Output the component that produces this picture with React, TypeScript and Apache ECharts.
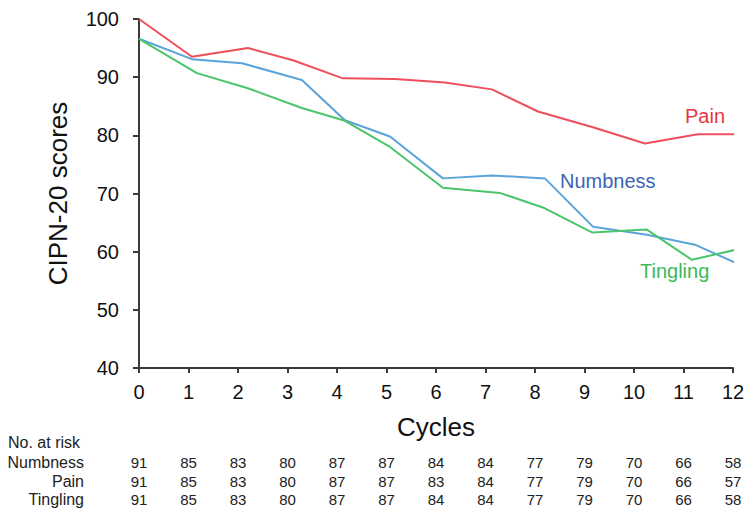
import React, { useEffect, useRef } from "react";
import * as echarts from "echarts";

const cycles = [0, 1, 2, 3, 4, 5, 6, 7, 8, 9, 10, 11, 12];
const yTicks = [40, 50, 60, 70, 80, 90, 100];

// [cycle position, score]
const pain: [number, number][] = [
  [0, 100], [1.07, 93.5], [2.2, 95.0], [3.11, 92.9], [4.12, 89.8], [5.17, 89.7],
  [6.18, 89.1], [7.13, 87.9], [8.06, 84.1], [9.17, 81.4], [10.22, 78.6], [11.29, 80.2], [12.2, 80.2],
];
const numbness: [number, number][] = [
  [0, 96.6], [1.07, 93.1], [2.08, 92.4], [3.29, 89.5], [4.16, 82.6], [5.07, 79.8],
  [6.14, 72.6], [7.13, 73.1], [8.2, 72.6], [9.17, 64.3], [10.26, 62.9], [11.23, 61.2], [12.18, 57.6],
];
const tingling: [number, number][] = [
  [0, 96.6], [1.17, 90.7], [2.2, 88.1], [3.29, 84.7], [4.16, 82.5], [5.07, 78.0],
  [6.14, 71.0], [7.29, 70.1], [8.16, 67.6], [9.15, 63.3], [10.26, 63.8], [11.17, 58.6], [12.14, 60.5],
];

const riskNumbness = [91, 85, 83, 80, 87, 87, 84, 84, 77, 79, 70, 66, 58];
const riskPain = [91, 85, 83, 80, 87, 87, 83, 84, 77, 79, 70, 66, 57];
const riskTingling = [91, 85, 83, 80, 87, 87, 84, 84, 77, 79, 70, 66, 58];

const FONT = "'Liberation Sans', Arial, Helvetica, sans-serif";
const AXIS_COLOR = "#3a3a3a";

export default function App() {
  const ref = useRef<HTMLDivElement>(null);
  useEffect(() => {
    if (!ref.current) return;
    const chart = echarts.init(ref.current, undefined, { renderer: "svg" });
    const riskAxis = (vals: number[], offset: number) => ({
      type: "value" as const,
      position: "bottom" as const,
      min: 0,
      max: 12,
      interval: 1,
      offset,
      axisLine: { show: false },
      axisTick: { show: false },
      splitLine: { show: false },
      axisLabel: {
        margin: 0,
        fontSize: 15,
        color: "#222",
        fontFamily: FONT,
        formatter: (v: number) => String(vals[Math.round(v)] ?? ""),
      },
    });
    chart.setOption({
      animation: false,
      backgroundColor: "#ffffff",
      grid: { left: 139, top: 19, right: 16, bottom: 141, containLabel: false },
      xAxis: [
        {
          type: "value",
          min: 0,
          max: 12,
          interval: 1,
          name: "Cycles",
          nameLocation: "middle",
          nameGap: 46,
          nameTextStyle: { fontSize: 26, color: "#111", fontFamily: FONT },
          axisLine: { show: true, lineStyle: { color: AXIS_COLOR, width: 2 } },
          axisTick: { show: true, length: 5, lineStyle: { color: AXIS_COLOR, width: 2 } },
          splitLine: { show: false },
          axisLabel: {
            margin: 14,
            fontSize: 20,
            color: "#111",
            fontFamily: FONT,
            formatter: (v: number) => (cycles.includes(v) ? String(v) : ""),
          },
        },
        riskAxis(riskNumbness, 87),
        riskAxis(riskPain, 106),
        riskAxis(riskTingling, 124),
      ],
      yAxis: {
        type: "value",
        min: yTicks[0],
        max: yTicks[yTicks.length - 1],
        interval: 10,
        name: "CIPN-20 scores",
        nameLocation: "middle",
        nameRotate: 90,
        nameGap: 68,
        nameTextStyle: { fontSize: 26, color: "#111", fontFamily: FONT },
        axisLine: { show: true, lineStyle: { color: AXIS_COLOR, width: 2 } },
        axisTick: { show: true, length: 6, lineStyle: { color: AXIS_COLOR, width: 2 } },
        splitLine: { show: false },
        axisLabel: { margin: 20, fontSize: 20, color: "#111", fontFamily: FONT },
      },
      series: [
        {
          type: "line",
          name: "Pain",
          data: pain,
          symbol: "none",
          clip: false,
          lineStyle: { color: "#ee4f5b", width: 2 },
        },
        {
          type: "line",
          name: "Numbness",
          data: numbness,
          symbol: "none",
          clip: false,
          lineStyle: { color: "#5ba3d9", width: 2 },
        },
        {
          type: "line",
          name: "Tingling",
          data: tingling,
          symbol: "none",
          clip: false,
          lineStyle: { color: "#4cc46c", width: 2 },
        },
      ],
      graphic: [
        { type: "text", left: 685, top: 106, style: { text: "Pain", fill: "#e8353f", fontSize: 20, fontFamily: FONT } },
        { type: "text", left: 560, top: 171, style: { text: "Numbness", fill: "#3d64b4", fontSize: 20, fontFamily: FONT } },
        { type: "text", left: 640, top: 261, style: { text: "Tingling", fill: "#3cb95a", fontSize: 20, fontFamily: FONT } },
        { type: "text", left: 8, top: 434, style: { text: "No. at risk", fill: "#222", fontSize: 16, fontFamily: FONT } },
        { type: "text", right: 749 - 84, top: 454, style: { text: "Numbness", fill: "#222", fontSize: 16, fontFamily: FONT, align: "right" } },
        { type: "text", right: 749 - 84, top: 473, style: { text: "Pain", fill: "#222", fontSize: 16, fontFamily: FONT, align: "right" } },
        { type: "text", right: 749 - 84, top: 491, style: { text: "Tingling", fill: "#222", fontSize: 16, fontFamily: FONT, align: "right" } },
      ],
    });
    return () => chart.dispose();
  }, []);
  return (
    <div
      ref={ref}
      style={{ position: "fixed", left: 0, top: 0, width: 749, height: 509, background: "#fff" }}
    />
  );
}
